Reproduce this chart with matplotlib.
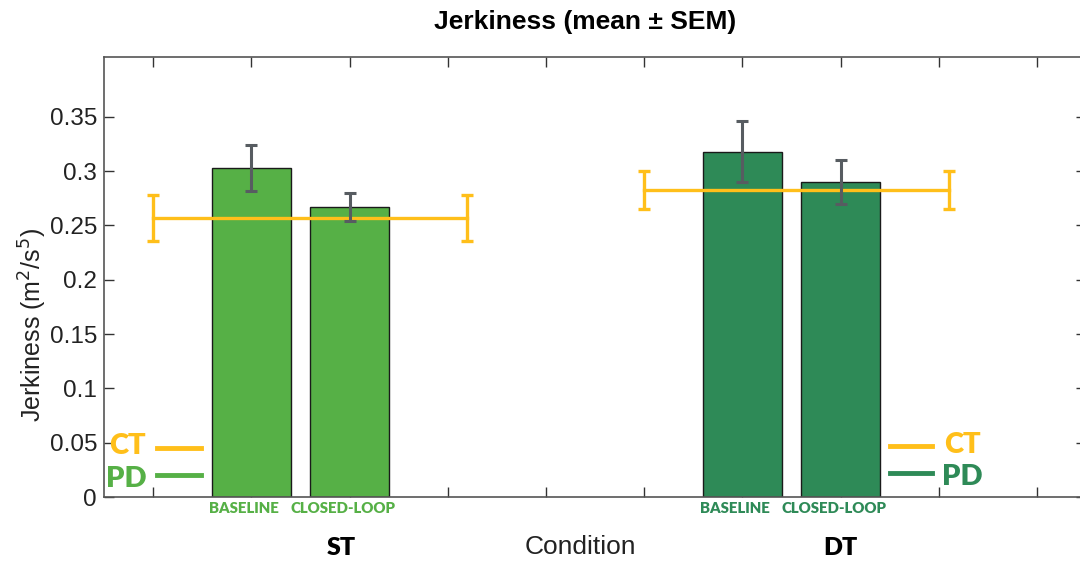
import numpy as np
import matplotlib.pyplot as plt
from matplotlib.ticker import FormatStrFormatter

# PD jerkiness, mean and SEM per task / condition
conditions = ['BASELINE', 'CLOSED-LOOP']
tasks = ['ST', 'DT']
pd_x = [[2, 3], [7, 8]]
pd_mean = [[0.303, 0.267], [0.318, 0.290]]
pd_sem = [[0.021, 0.013], [0.028, 0.020]]

# control group reference line (mean +- SEM) per task
ct_x = [[1.0, 4.2], [6.0, 9.1]]
ct_mean = [0.257, 0.2825]
ct_sem = [0.021, 0.0175]

task_colors = ['#56B046', '#2E8A57']
ct_color = '#FFBF1A'
err_color = '#575C61'

plt.rcParams['font.family'] = ['Liberation Sans', 'DejaVu Sans']

fig = plt.figure(figsize=(10.8, 5.65), dpi=100)
ax = fig.add_axes([104 / 1080, 1 - 497 / 565, 982 / 1080, 440 / 565])

for i, task in enumerate(tasks):
    ax.bar(pd_x[i], pd_mean[i], width=0.8, color=task_colors[i],
           edgecolor='#1a1a1a', linewidth=1.0, zorder=2)
    ax.errorbar(pd_x[i], pd_mean[i], yerr=pd_sem[i], fmt='none',
                ecolor=err_color, elinewidth=2.2, capsize=4, capthick=2.2, zorder=4)
    # control reference band
    ax.plot(ct_x[i], [ct_mean[i]] * 2, color=ct_color, lw=2.4, zorder=3)
    ax.errorbar(ct_x[i], [ct_mean[i]] * 2, yerr=ct_sem[i], fmt='none',
                ecolor=ct_color, elinewidth=2.4, capsize=4, capthick=2.4, zorder=3)
    for x, lab in zip(pd_x[i], conditions):
        ax.text(x - 0.07, -0.0105, lab, ha='center', va='center', fontsize=10.8,
                fontweight='heavy', color=task_colors[i], family='Lato')

ax.set_xlim(0.5, 10.5)
ax.set_ylim(0, 0.405)
ax.set_xticks(np.arange(1, 11))
ax.set_xticklabels([])
ax.set_yticks(np.arange(0, 0.36, 0.05))
ax.yaxis.set_major_formatter(FormatStrFormatter('%g'))
ax.tick_params(direction='in', length=7, width=1, color='#333333',
               top=True, right=True, labelsize=17.5, labelcolor='#222222', pad=5)
for s in ax.spines.values():
    s.set_color('#555555')
    s.set_linewidth(1.2)

ax.set_ylabel('Jerkiness (m$^{2}$/s$^{5}$)', fontsize=18, color='#222222', labelpad=2)
ax.yaxis.set_label_coords(-0.056, 0.39)

# group labels under the axis
ax.text(2.92, -0.047, 'ST', ha='center', va='center', fontsize=18, fontweight='heavy',
        family='Lato')
ax.text(8.0, -0.047, 'DT', ha='center', va='center', fontsize=18, fontweight='heavy',
        family='Lato')
fig.text(580 / 1080, 1 - 547 / 565, 'Condition', ha='center', va='center',
         fontsize=19, color='#222222')
fig.text(585 / 1080, 1 - 22 / 565, 'Jerkiness (mean ± SEM)', ha='center', va='center',
         fontsize=19, fontweight='bold')

# hand-drawn keys on both sides
ax.plot([1.04, 1.49], [0.045, 0.045], color=ct_color, lw=3.5, clip_on=False)
ax.plot([1.04, 1.49], [0.020, 0.020], color=task_colors[0], lw=3.5, clip_on=False)
ax.text(0.93, 0.047, 'CT', ha='right', va='center', fontsize=21, fontweight='heavy',
        color=ct_color, family='Lato')
ax.text(0.93, 0.017, 'PD', ha='right', va='center', fontsize=21, fontweight='heavy',
        color=task_colors[0], family='Lato')
ax.plot([8.5, 8.93], [0.047, 0.047], color=ct_color, lw=3.5, clip_on=False)
ax.plot([8.5, 8.93], [0.022, 0.022], color=task_colors[1], lw=3.5, clip_on=False)
ax.text(9.06, 0.048, 'CT', ha='left', va='center', fontsize=21, fontweight='heavy',
        color=ct_color, family='Lato')
ax.text(9.03, 0.018, 'PD', ha='left', va='center', fontsize=21, fontweight='heavy',
        color=task_colors[1], family='Lato')

fig.savefig('out.png', dpi=100)
